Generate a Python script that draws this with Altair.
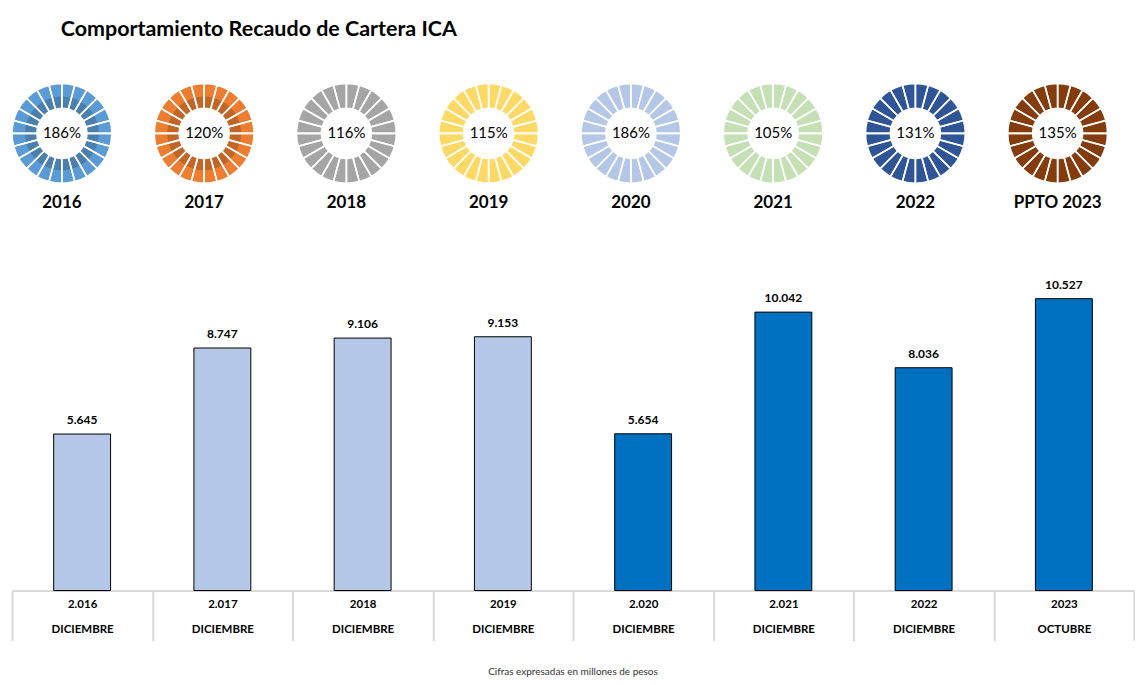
import altair as alt
import pandas as pd

# ---------------- data ----------------
chart_title = "Comportamiento Recaudo de Cartera ICA"

donut_labels = ["2016", "2017", "2018", "2019", "2020", "2021", "2022", "PPTO 2023"]
donut_pct = [1.86, 1.20, 1.16, 1.15, 1.86, 1.05, 1.31, 1.35]
donut_colors = ["#5B9BD5", "#ED7D31", "#A5A5A5", "#FFD966",
                "#B4C7E7", "#C5E0B4", "#2F5597", "#843C0C"]
shaded_years = ["2016", "2017"]
n_segments = 24

bar_years = ["2.016", "2.017", "2018", "2019", "2.020", "2.021", "2022", "2023"]
bar_months = ["DICIEMBRE", "DICIEMBRE", "DICIEMBRE", "DICIEMBRE",
              "DICIEMBRE", "DICIEMBRE", "DICIEMBRE", "OCTUBRE"]
bar_values = [5.645, 8.747, 9.106, 9.153, 5.654, 10.042, 8.036, 10.527]
bar_group = ["anterior", "anterior", "anterior", "anterior",
             "reciente", "reciente", "reciente", "reciente"]
bar_colors = ["#B4C7E7", "#0070C0"]

footnote = "Cifras expresadas en millones de pesos"

FONT = "Lato"

# ---------------- donuts ----------------
rows = []
for lab, p in zip(donut_labels, donut_pct):
    for s in range(n_segments):
        rows.append({"year": lab, "pct": p, "seg": s})
donut_df = pd.DataFrame(rows)

R_OUT, R_IN, R_SHADE = 50, 25, 37

ring = alt.Chart().mark_arc(
    outerRadius=R_OUT, innerRadius=R_IN, strokeWidth=0
).encode(
    theta=alt.Theta("count():Q"),
    detail="seg:N",
    color=alt.Color("year:N", scale=alt.Scale(domain=donut_labels, range=donut_colors), legend=None),
)

shade = alt.Chart().mark_arc(
    outerRadius=R_SHADE, innerRadius=R_IN, fill="black", fillOpacity=0.18, strokeWidth=0
).encode(
    theta=alt.Theta("count():Q"),
    detail="seg:N",
).transform_filter(alt.FieldOneOfPredicate(field="year", oneOf=shaded_years))

seams = alt.Chart().mark_arc(
    outerRadius=R_OUT, innerRadius=R_IN, fill="white", fillOpacity=0,
    stroke="white", strokeWidth=1.6
).encode(
    theta=alt.Theta("count():Q"),
    detail="seg:N",
)

pct_text = alt.Chart().mark_text(font=FONT, fontSize=15, color="black").encode(
    text=alt.Text("mean(pct):Q", format=".0%")
)

donuts = alt.layer(ring, shade, seams, pct_text, data=donut_df).properties(
    width=100, height=112
).facet(
    column=alt.Column(
        "year:N", sort=donut_labels,
        header=alt.Header(title=None, labelOrient="bottom", labelFont=FONT,
                          labelFontSize=17, labelFontWeight="bold",
                          labelColor="black", labelPadding=5.5),
    ),
    spacing=42.5,
    bounds="flush",
)

# ---------------- bars ----------------
bar_df = pd.DataFrame({
    "cat": [f"{y}|{m}" for y, m in zip(bar_years, bar_months)],
    "value": bar_values,
    "group": bar_group,
})

base = alt.Chart(bar_df).encode(
    x=alt.X(
        "cat:N", sort=None,
        scale=alt.Scale(paddingInner=0, paddingOuter=0),
        axis=alt.Axis(
            title=None, labelExpr="split(datum.label, '|')", labelAngle=0,
            labelFont=FONT, labelFontSize=11.5, labelFontWeight="bold",
            labelColor="black", labelLineHeight=25, labelPadding=-42,
            domainColor="#D9D9D9", domainWidth=2,
            tickColor="#D9D9D9", tickWidth=2, tickSize=50, tickBand="extent",
        ),
    ),
    y=alt.Y("value:Q", scale=alt.Scale(domain=[0, 12.6]), axis=None),
)

bars = base.mark_bar(size=57, stroke="black", strokeWidth=1).encode(
    color=alt.Color("group:N", scale=alt.Scale(domain=["anterior", "reciente"], range=bar_colors), legend=None)
)
labels = base.mark_text(dy=-14, font=FONT, fontSize=12, fontWeight="bold", color="black").encode(
    text=alt.Text("value:Q", format=".3f")
)

bar_chart = alt.layer(bars, labels).properties(
    width=1124, height=350,
    title=alt.TitleParams(footnote, orient="bottom", anchor="middle", font=FONT,
                          fontSize=10, fontWeight="normal", color="#333333", offset=26),
)

chart = alt.vconcat(
    donuts, bar_chart, spacing=30,
    title=alt.TitleParams(chart_title, anchor="start", dx=52, font=FONT, fontSize=21.5,
                          fontWeight="bold", color="black", offset=37),
).resolve_scale(color="independent").properties(
    padding={"left": 0, "top": 10, "right": 0, "bottom": 0}
).configure_view(stroke=None)

chart.save("out.html", embed_options={"renderer": "svg", "actions": False})
